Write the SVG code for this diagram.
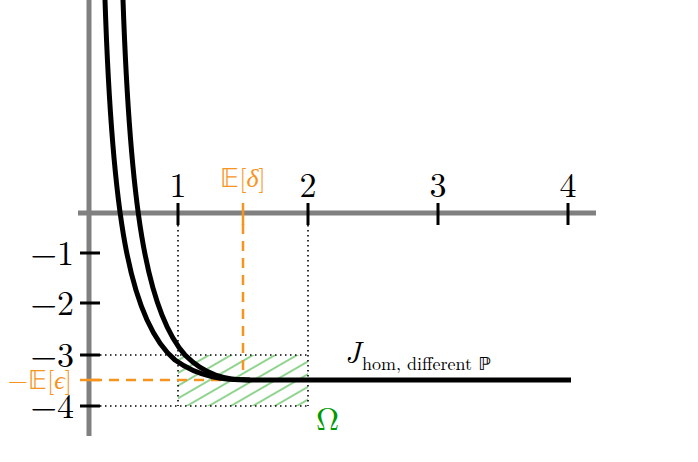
<svg xmlns="http://www.w3.org/2000/svg" width="698" height="462" viewBox="0 0 698 462">
<defs>
<style>
.ax{stroke:#808080;stroke-width:5;fill:none}
.tk{stroke:#000;stroke-width:3}
.dot{stroke:#000;stroke-width:1.6;stroke-dasharray:1.5 3.5;fill:none}
.or{stroke:#f7941d;stroke-width:2.5;fill:none}
.cv{stroke:#000;stroke-width:5;fill:none}
.t{font-family:'Latin Modern Roman','Liberation Serif',serif;font-size:34px;fill:#000}
.o{fill:#f7941d;font-size:26px}
</style>
<pattern id="h" width="11" height="11" patternUnits="userSpaceOnUse" patternTransform="rotate(-30)">
<line x1="0" y1="5" x2="11" y2="5" stroke="#22aa22" stroke-width="1"/>
</pattern>
</defs>
<g id="region"><rect x="178" y="355" width="130" height="51" fill="url(#h)"/></g>
<g id="axes">
<line class="ax" x1="89" y1="0" x2="89" y2="436"/>
<line class="ax" x1="78" y1="213" x2="596" y2="213"/>
</g>
<g id="guides">
<path class="dot" d="M178,215V406M308,215V406M100,355H308M100,406H308"/>
<path class="or" stroke-dasharray="10 7" d="M243,224V380M92,380H243"/>
</g>
<g id="ticks">
<path class="tk" d="M178,203V225M308,203V225M438,203V225M568,203V225M80,253H100M80,303H100M80,355H100M80,406H100"/>
<path class="or" stroke-width="3" d="M243,203V225M80,380H100"/>
</g>
<g id="curves">
<path class="cv" d="M105,0 C112,210 128,320 175,360 C200,378 225,380 250,380 L571,380"/>
<path class="cv" d="M123,0 C130,200 145,310 185,355 C205,375 225,380 250,380"/>
</g>
<g id="labels">
<text class="t" x="178" y="197" text-anchor="middle">1</text>
<text class="t" x="308" y="197" text-anchor="middle">2</text>
<text class="t" x="438" y="197" text-anchor="middle">3</text>
<text class="t" x="568" y="197" text-anchor="middle">4</text>
<text class="t o" x="243" y="187" text-anchor="middle">𝔼[<tspan font-style="italic">δ</tspan>]</text>
<text class="t" x="74" y="265" text-anchor="end">−1</text>
<text class="t" x="74" y="315" text-anchor="end">−2</text>
<text class="t" x="74" y="367" text-anchor="end">−3</text>
<text class="t" x="74" y="418" text-anchor="end">−4</text>
<text class="t o" x="72" y="389" text-anchor="end">−𝔼[<tspan font-style="italic">ϵ</tspan>]</text>
<text class="t" x="345" y="363" font-style="italic" style="font-size:30px">J</text>
<text class="t" x="362" y="370" style="font-size:18px">hom, different <tspan style="font-family:'DejaVu Sans',sans-serif;fill:#000">ℙ</tspan></text>
<text class="t" x="316" y="430" style="fill:#009900;font-size:32px">Ω</text>
</g>
</svg>
